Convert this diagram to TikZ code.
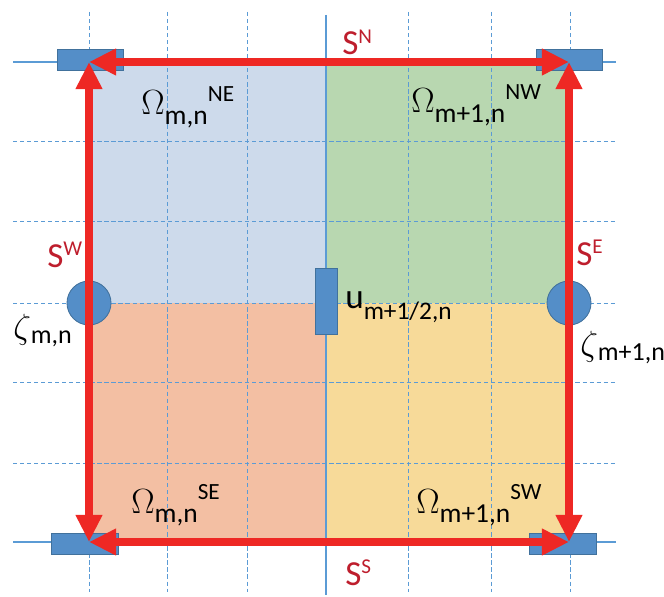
\documentclass[tikz,border=0pt]{standalone}
\usepackage{fontspec}
\setmainfont{Carlito}
\usetikzlibrary{arrows.meta}

\definecolor{gridblue}{RGB}{91,155,213}
\definecolor{boxblue}{RGB}{84,142,200}
\definecolor{boxedge}{RGB}{65,113,156}
\definecolor{arrowred}{RGB}{238,40,36}
\definecolor{labelred}{RGB}{190,30,45}
\definecolor{fillNE}{RGB}{205,218,235}
\definecolor{fillNW}{RGB}{184,215,176}
\definecolor{fillSE}{RGB}{243,191,163}
\definecolor{fillSW}{RGB}{247,218,153}

% quarter cell, side and elevation labels
\newcommand{\dom}[2]{{\fontsize{27}{27}\selectfont$\Omega$}\raisebox{-6.5pt}{\fontsize{19.5}{19.5}\selectfont #1}\raisebox{9.5pt}{\fontsize{16.5}{16.5}\selectfont #2}}
\newcommand{\side}[1]{{\fontsize{25}{25}\selectfont S}\raisebox{8pt}{\fontsize{15}{15}\selectfont #1}}
\newcommand{\elev}[1]{{\fontsize{23}{23}\selectfont$\zeta$}\raisebox{-4pt}{\fontsize{18.5}{18.5}\selectfont #1}}

\begin{document}
\begin{tikzpicture}[x=0.025cm, y=-0.025cm,
    grid/.style = {gridblue, line width=0.6pt, dash pattern=on 3pt off 2pt},
    axis/.style = {gridblue, line width=2pt},
    vbox/.style = {draw=boxedge, fill=boxblue, line width=0.6pt, rectangle, inner sep=0, minimum width=1.65cm, minimum height=0.525cm},
    zbox/.style = {draw=boxedge, fill=boxblue, line width=0.6pt, circle, inner sep=0, minimum size=1.1cm},
    side/.style = {arrowred, line width=5pt, {Triangle[length=0.68cm, width=0.63cm]}-{Triangle[length=0.68cm, width=0.63cm]}},
    lbl/.style = {inner sep=0, anchor=base west}]
    \useasboundingbox (0,0) rectangle (664,597);

    % the four quarters
    \fill[fillNE] (89,62) rectangle (326,303);
    \fill[fillNW] (326,62) rectangle (569,303);
    \fill[fillSE] (89,303) rectangle (326,542);
    \fill[fillSW] (326,303) rectangle (569,542);

    % grid
    \foreach \gx in {89,167,247,408,491,570}
        \draw[grid] (\gx,12) -- (\gx,592);
    \foreach \gy in {141,221,303,382,463}
        \draw[grid] (13,\gy) -- (617,\gy);
    \draw[axis] (13,62) -- (616,62);
    \draw[axis] (13,542) -- (616,542);
    \draw[axis] (326,15) -- (326,595);

    % variables
    \node[zbox] (zW) at (89,303) {};
    \node[zbox] (zE) at (569,303) {};
    \node[vbox] (rNW) at (90,59.5) {};
    \node[vbox] (rNE) at (569,59.5) {};
    \node[vbox, minimum width=1.675cm] (rSW) at (84.5,543.5) {};
    \node[vbox, minimum width=1.675cm] (rSE) at (562.5,543.5) {};
    \node[vbox, minimum width=0.55cm, minimum height=1.65cm] (ru) at (326,301) {};

    % cell boundary
    \coordinate (cNW) at (89,62);
    \coordinate (cNE) at (569,62);
    \coordinate (cSW) at (89,542);
    \coordinate (cSE) at (569,542);
    \draw[side] (cNW) -- (cNE);
    \draw[side] (cSW) -- (cSE);
    \draw[side] (cSW) -- (cNW);
    \draw[side] (cSE) -- (cNE);

    % labels
    \node[lbl, labelred] (sN) at (342,55) {\side{N}};
    \node[lbl, labelred] (sW) at (47,267) {\side{W}};
    \node[lbl, labelred] (sE) at (576,265) {\side{E}};
    \node[lbl, labelred] (sS) at (345,585) {\side{S}};
    \node[lbl] (oNE) at (141,115) {\dom{m,n}{NE}};
    \node[lbl] (oNW) at (411,113) {\dom{m+1,n}{NW}};
    \node[lbl] (oSE) at (131,513) {\dom{m,n}{SE}};
    \node[lbl] (oSW) at (416,513) {\dom{m+1,n}{SW}};
    \node[lbl] (uL) at (345,308) {{\fontsize{25}{25}\selectfont u}\raisebox{-8.5pt}{\fontsize{18}{18}\selectfont m+1/2,n}};
    \node[lbl] (zL) at (13,338) {\elev{m,n}};
    \node[lbl] (zR) at (580,355) {\elev{m+1,n}};
\end{tikzpicture}
\end{document}
